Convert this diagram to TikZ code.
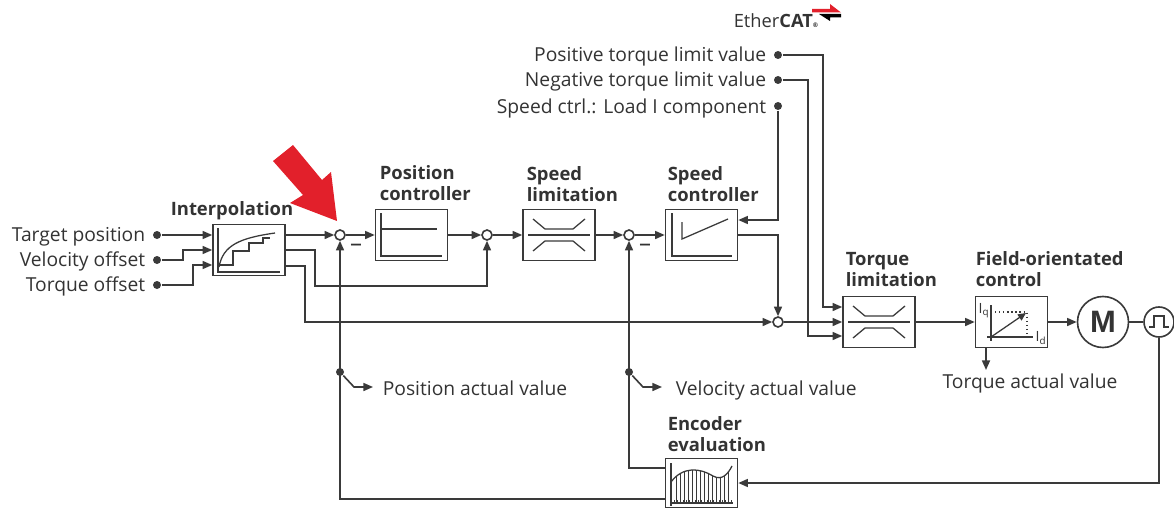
\documentclass[tikz,border=0pt]{standalone}
\usepackage{fontspec}
\setmainfont{Open Sans}
\newfontfamily\mfont{Liberation Sans}
\usetikzlibrary{arrows.meta,calc,positioning}

\definecolor{linegray}{HTML}{3A3A3A}
\definecolor{txtgray}{HTML}{333333}
\definecolor{ecred}{HTML}{E2202B}

\tikzset{
	arr/.style={-{Triangle[length=2.4mm,width=2mm]}},
	block/.style={draw, fill=white, minimum width=18mm, minimum height=12.75mm, inner sep=0pt},
	sumpt/.style={draw, circle, fill=white, minimum size=2.5mm, inner sep=0pt},
	termdot/.style={circle, fill=linegray, minimum size=2mm, inner sep=0pt},
	lbl/.style={font=\fontsize{13.7}{16}\selectfont, text=txtgray, inner sep=0pt},
	ttl/.style={font=\fontsize{13.1}{15}\selectfont\bfseries, text=txtgray, align=left, inner sep=0pt, anchor=south west, text depth=0pt},
	icon/.style={line width=0.9pt},
}

\begin{document}
\begin{tikzpicture}[x=0.25mm, y=-0.25mm, line width=1.15pt, color=linegray]
	\useasboundingbox (0,0) rectangle (1174,509);
	
	%blocks
	\node[block] (interp) at (249,250) {};
	\node[block] (posctl) at (411.5,235) {};
	\node[block] (speedlim) at (559,235) {};
	\node[block] (speedctl) at (701.5,235) {};
	\node[block] (torquelim) at (879,322) {};
	\node[block] (foc) at (1011.5,322) {};
	\node[block, minimum height=12.25mm] (enceval) at (701.5,483) {};
	\node[draw, circle, minimum size=12.75mm, inner sep=0pt, text=txtgray, font={\mfont\bfseries\fontsize{22}{22}\selectfont}] (motor) at (1103,322) {M};
	\node[draw, circle, minimum size=7.5mm, inner sep=0pt] (enc) at (1159,322) {};
	
	%summing points
	\node[sumpt] (sum1) at (340,235) {};
	\node[sumpt] (sum2) at (487,235) {};
	\node[sumpt] (sum3) at (629,235) {};
	\node[sumpt] (sum4) at (778,322) {};
	\node[lbl, font=\fontsize{17}{17}\selectfont] (minus1) at (356,248) {\textendash};
	\node[lbl, font=\fontsize{17}{17}\selectfont] (minus3) at (645,248) {\textendash};
	
	%titles
	\node[ttl] (interpttl) at (170,216) {Interpolation};
	\node[ttl] (posttl) at (379,201) {Position\\controller};
	\node[ttl] (slimttl) at (526,202) {Speed\\limitation};
	\node[ttl] (sctlttl) at (667,202) {Speed\\controller};
	\node[ttl] (tlimttl) at (845,287) {Torque\\limitation};
	\node[ttl] (focttl) at (975,287) {Field-orientated\\control};
	\node[ttl] (encttl) at (667,452) {Encoder\\evaluation};
	
	%inputs
	\node[termdot] (tpdot) at (157,235) {};
	\node[termdot] (vodot) at (157,260) {};
	\node[termdot] (todot) at (157,285) {};
	\node[lbl, anchor=base east] (tplbl) at (146,241) {Target position};
	\node[lbl, anchor=base east] (volbl) at (146,266) {Velocity offset};
	\node[lbl, anchor=base east] (tolbl) at (146,291) {Torque offset};
	
	\node[termdot] (pldot) at (778,55) {};
	\node[termdot] (nldot) at (778,80) {};
	\node[termdot] (ldot) at (778,106) {};
	\node[lbl, anchor=base east] (pllbl) at (767,62) {Positive torque limit value};
	\node[lbl, anchor=base east] (nllbl) at (767,87) {Negative torque limit value};
	\node[lbl, anchor=base east] (llbl) at (767,113) {Speed ctrl.: Load I component};
	
	%EtherCAT logo
	\node[anchor=base west, inner sep=0pt, text=txtgray, font=\fontsize{13}{13}\selectfont] (ecat) at (733,28) {Ether\textbf{CAT}{\fontsize{4.5}{4.5}\selectfont\textbf{®}}};
	\fill[ecred] (812,9) -- (830,9) -- (830,4) -- (841,12.5) -- (812,12.5) -- cycle;
	\fill[black] (841,14) -- (819,14) -- (830,21) -- (830,17.5) -- (841,17.5) -- cycle;
	
	%red marker
	\fill[ecred] (293,145) -- (322,180) -- (331,172) -- (337,221) -- (290,203) -- (303,195) -- (273,161) -- cycle;
	
	%icons
	\draw[icon] (218,228) -- (218,272) -- (280,272);
	\draw[icon] (219,267) .. controls (223,245) and (240,238) .. (275,233);
	\draw[icon] (220,265) -| (233,251) -| (249,243) -| (263,238) -- (270,238);
	
	\draw[icon] (381,213) -- (381,256) -- (442,256);
	\draw[icon] (381,229) -- (437,229);
	
	\draw[icon] (672,213) -- (672,256) -- (732,256);
	\draw[icon] (682,222) -- (682,239) -- (728,219);
	
	\foreach \b in {speedlim, torquelim}
	{
		\draw[icon, shift={(\b.center)}] (-31,0) -- (31,0);
		\draw[icon, shift={(\b.center)}] (-26,-16) -- (-14,-6) -- (14,-6) -- (26,-16);
		\draw[icon, shift={(\b.center)}] (-26,16) -- (-14,6) -- (14,6) -- (26,16);
	}
	
	\draw[icon] (991,305) -- (991,341);
	\draw[icon] (987,337) -- (1033,337);
	\draw[icon, dotted, line width=1.2pt] (995,312) -- (1027,312) -- (1027,334);
	\draw[icon, -{Triangle[length=2mm,width=1.8mm]}] (991,337) -- (1026,313);
	\node[inner sep=0pt, text=txtgray, font=\fontsize{10}{10}\selectfont] (iq) at (984,311) {I\textsubscript{q}};
	\node[inner sep=0pt, text=txtgray, font=\fontsize{10}{10}\selectfont] (id) at (1041,338) {I\textsubscript{d}};
	
	\draw[icon] (671,463) -- (671,506);
	\draw[icon] (671,503) -- (733,503);
	\draw[icon] (671,482) .. controls (683,466) and (700,468) .. (713,476) .. controls (722,481) and (728,474) .. (732,466);
	\begin{scope}
		\clip (671,482) .. controls (683,466) and (700,468) .. (713,476) .. controls (722,481) and (728,474) .. (732,466) -- (732,503) -- (671,503) -- cycle;
		\foreach \x in {676,680,...,730}
		\draw[line width=0.5pt] (\x,460) -- (\x,503);
	\end{scope}
	\foreach \x in {674,677,...,731}
	\draw[line width=0.4pt] (\x,503) -- (\x,500);
	
	\draw[icon] (1149,327) -- (1154,327) -- (1154,316) -- (1164,316) -- (1164,327) -- (1169,327);
	
	%signal lines
	\draw[arr] (tpdot) -- (tpdot -| interp.west);
	\draw[arr] (vodot) -- (183,260) |- (interp.west);
	\draw[arr] (todot) -- (193,285) |- ($(interp.west)+(0,15)$);
	\draw[arr] (interp.east |- sum1) -- (sum1);
	\draw[arr] (interp.east) -| (315,286) -| (sum2.south);
	\draw[arr] ($(interp.east)+(0,16)$) -| (sum4.west -| 305,0) -- (sum4.west);
	\draw[arr] (sum1) -- (posctl);
	\draw[arr] (posctl) -- (sum2);
	\draw[arr] (sum2) -- (speedlim);
	\draw[arr] (speedlim) -- (sum3);
	\draw[arr] (sum3) -- (speedctl);
	\draw[arr] (speedctl.east) -| (sum4.north);
	\draw[arr] (ldot) |- ($(speedctl.east)+(0,-15)$);
	\draw[arr] (pldot) -- (823,55) |- ($(torquelim.west)+(0,-15)$);
	\draw[arr] (nldot) -- (808,80) |- ($(torquelim.west)+(0,14)$);
	\draw[arr] (sum4) -- (torquelim);
	\draw[arr] (torquelim) -- (foc);
	\draw[arr] (foc) -- (motor);
	\draw (motor) -- (enc);
	
	%feedback
	\draw[arr] (enc.south) |- (enceval.east);
	\draw[arr] ($(enceval.west)+(0,-15)$) -| (sum3.south);
	\draw[arr] ($(enceval.west)+(0,16)$) -| (sum1.south);
	
	%actual values
	\node[termdot] (pbranch) at (340,372) {};
	\node[termdot] (vbranch) at (629,372) {};
	\coordinate (posarr) at (373,387);
	\coordinate (velarr) at (662,387);
	\coordinate (tqarr) at (986,370);
	\node[lbl, anchor=base west] (posact) at (382,395) {Position actual value};
	\node[lbl, anchor=base west] (velact) at (675,395) {Velocity actual value};
	\node[lbl, anchor=base] (tqact) at (1030,388) {Torque actual value};
	\draw[arr] (pbranch) -- (354,387) -- (posarr);
	\draw[arr] (vbranch) -- (643,387) -- (velarr);
	\draw[arr] (tqarr |- foc.south) -- (tqarr);
\end{tikzpicture}
\end{document}
